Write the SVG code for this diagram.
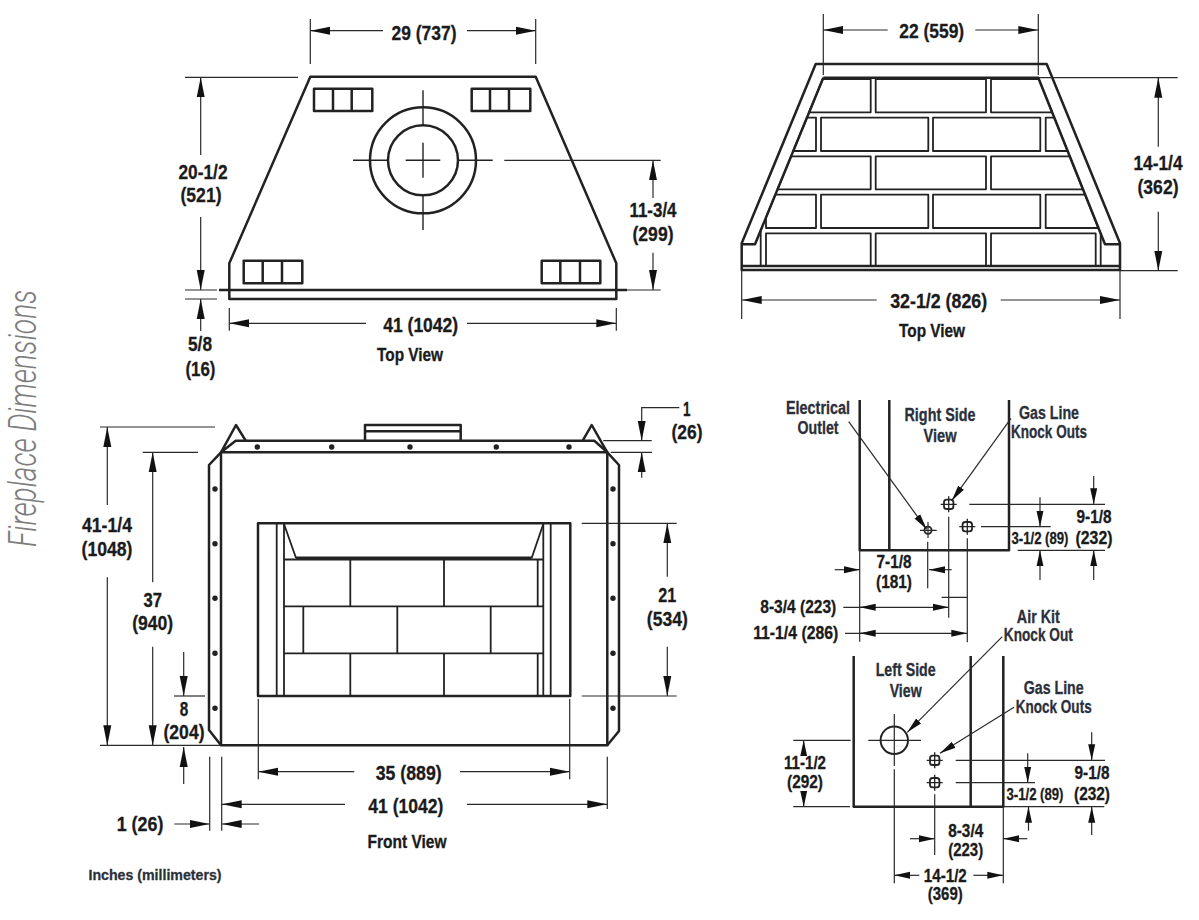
<svg xmlns="http://www.w3.org/2000/svg" width="1199" height="920" viewBox="0 0 1199 920">
<style>
text{font-family:"Liberation Sans",Arial,sans-serif;font-weight:700;fill:#1b1b1b;stroke:#1b1b1b;stroke-width:.3;text-anchor:middle}
.d{font-size:20px}
.m{font-size:18px}
.v{font-size:18px;fill:#2b2f3a;stroke:#2b2f3a}
.s{font-size:16px}
.n{fill:none;stroke:#222;stroke-width:2.5;stroke-linejoin:round}
.b{fill:none;stroke:#222;stroke-width:1.8;stroke-linejoin:round}
.t{fill:none;stroke:#2a2a2a;stroke-width:1.2}
.a{marker-start:url(#ah);}
.z{marker-end:url(#ah)}
.a2{marker-start:url(#sh)}
.z2{marker-end:url(#sh)}
.dot{fill:#222}
</style>
<defs>
<marker id="ah" markerUnits="userSpaceOnUse" markerWidth="20" markerHeight="9" refX="20" refY="4.5" orient="auto-start-reverse"><path d="M0,.5 L20,4.5 L0,8.5 Z" fill="#111"/></marker>
<marker id="sh" markerUnits="userSpaceOnUse" markerWidth="16" markerHeight="8" refX="16" refY="4" orient="auto-start-reverse"><path d="M0,.5 L16,4 L0,7.5 Z" fill="#111"/></marker>
<g id="ko"><rect x="-4.7" y="-4.7" width="9.4" height="9.4" rx="2.6" fill="none" stroke="#222" stroke-width="1.8"/><path d="M-8,0H8M0,-8V8" fill="none" stroke="#222" stroke-width="1.3"/></g>
</defs>

<text transform="translate(35.5 418.5) rotate(-90)" style="font-family:Roboto,'Liberation Sans',sans-serif;font-weight:300;font-style:italic;font-size:38px;fill:#7d7d7d;stroke:none" textLength="257" lengthAdjust="spacingAndGlyphs">Fireplace Dimensions</text>

<g id="top-view-left">
<path class="n" d="M310.3 76.7H535.7L616.3 263.3V299H229.3V263.3Z"/>
<path class="n" d="M219 290H627"/>
<path class="n" d="M314 88.7H372.3V111H314ZM333 88.7V111M351.7 88.7V111"/>
<path class="n" d="M471.7 88.7H530.3V111H471.7ZM490 88.7V111M509 88.7V111"/>
<path class="n" d="M243.7 260.7H302.3V283.3H243.7ZM262.7 260.7V283.3M282 260.7V283.3"/>
<path class="n" d="M541.7 260.7H600.3V283.3H541.7ZM560.3 260.7V283.3M580 260.7V283.3"/>
<circle class="n" cx="423" cy="160.3" r="53"/>
<circle class="n" cx="423" cy="160.3" r="35"/>
<path class="b" style="stroke-width:1.4" d="M423 90.3V125.3M423 195.3V230M353 160.3H388M458 160.3H492.7M405.7 160.3H440.3M423 142.7V177.7"/>
<text class="m" x="410" y="360.7" textLength="66" lengthAdjust="spacingAndGlyphs">Top View</text>
</g>

<g id="top-view-right">
<path class="n" d="M815.7 64H1046.7L1120 243.3V270H741.7V243.3Z"/>
<path class="n" d="M823.3 77.7H1038.3L1105 244.3H1120M823.3 77.7L755 244.3H741.7"/>
<path class="n" d="M741.7 266H1120"/>
<g class="bricks">
<path class="b" d="M822.8 79H870.7V112.3H809.1Z"/>
<path class="b" d="M875.7 79H986V112.3H875.7Z"/>
<path class="b" d="M991 79H1038.8L1052.1 112.3H991Z"/>
<path class="b" d="M806.9 117.7H816V151H793.2Z"/>
<path class="b" d="M821 117.7H928.3V151H821Z"/>
<path class="b" d="M933 117.7H1040.3V151H933Z"/>
<path class="b" d="M1045.7 117.7H1054.3L1067.6 151H1045.7Z"/>
<path class="b" d="M791.1 156.3H870.7V189.3H777.5Z"/>
<path class="b" d="M875.7 156.3H986V189.3H875.7Z"/>
<path class="b" d="M991 156.3H1069.7L1082.9 189.3H991Z"/>
<path class="b" d="M775.3 194.7H816V228H766V217.5Z"/>
<path class="b" d="M821 194.7H928.3V228H821Z"/>
<path class="b" d="M933 194.7H1040.3V228H933Z"/>
<path class="b" d="M1045.7 194.7H1085.1L1098.4 228H1045.7Z"/>
<path class="b" d="M766 233.3H870.7V266H766Z"/>
<path class="b" d="M875.7 233.3H986V266H875.7Z"/>
<path class="b" d="M991 233.3H1095.7V266H991Z"/>
<path class="b" d="M760.7 230V266M1100.7 233V266"/>
</g>
<text class="m" x="932" y="337" textLength="66" lengthAdjust="spacingAndGlyphs">Top View</text>
</g>

<g id="front-view">
<path class="n" d="M221 452.3L236 425L245.7 440.7M582.7 440.7L591.7 425L607.3 452.3"/>
<path class="n" d="M365 440.7V425H460.7V440.7M365 431.3H460.7"/>
<path class="n" d="M221 452.3L235.7 440.7H594.3L607.3 452.3"/>
<path class="n" d="M221 452.3H607.3V745.3H221Z"/>
<path class="n" d="M221 452.3L209 465V730L221 745.3M607.3 452.3L619 465V731L607.3 745.3"/>
<g class="dot">
<circle cx="257.3" cy="447" r="2.7"/><circle cx="331.7" cy="447" r="2.7"/><circle cx="410" cy="447" r="2.7"/><circle cx="496.3" cy="447" r="2.7"/><circle cx="569" cy="447" r="2.7"/>
<circle cx="215" cy="489" r="2.7"/><circle cx="215" cy="543.7" r="2.7"/><circle cx="215" cy="598.3" r="2.7"/><circle cx="215" cy="653.3" r="2.7"/><circle cx="215" cy="708.3" r="2.7"/>
<circle cx="613" cy="489" r="2.7"/><circle cx="613" cy="543.7" r="2.7"/><circle cx="613" cy="598.3" r="2.7"/><circle cx="613" cy="653.3" r="2.7"/><circle cx="613" cy="708.3" r="2.7"/>
</g>
<path class="n" d="M258 523.3H570.3V696H258Z"/>
<path class="b" d="M276.7 523.3V696M284 523.3V696M550.7 523.3V696M543.3 523.3V696"/>
<path class="b" d="M284 524L296 558M543.3 524L531.7 558M284 559.5H543.3"/>
<path class="n" style="stroke-width:3" d="M296 558H531.7"/>
<path class="b" d="M284 606.3H543.3M284 653.3H543.3"/>
<path class="b" d="M350.3 559V606.3M444 559V606.3M537.7 559V606.3M303.3 606.3V653.3M397.3 606.3V653.3M490.7 606.3V653.3M350.3 653.3V696M444 653.3V696M537.7 653.3V696"/>
<text class="m" x="407" y="847.7" textLength="79" lengthAdjust="spacingAndGlyphs">Front View</text>
</g>

<g id="right-side-view">
<path class="n" d="M859.7 400V550.3H1009V400M889.3 400V550.3"/>
<circle cx="928" cy="530.3" r="3.6" fill="none" stroke="#222" stroke-width="1.8"/>
<path class="t" d="M920 530.3H936.7M928 522V538"/>
<use href="#ko" x="948.7" y="504.3"/>
<use href="#ko" x="967.3" y="526.7"/>
<text class="v" x="940" y="420.7" textLength="71" lengthAdjust="spacingAndGlyphs">Right Side</text>
<text class="v" x="940" y="441.7" textLength="33" lengthAdjust="spacingAndGlyphs">View</text>
</g>

<g id="left-side-view">
<path class="n" d="M853.7 656V806.7H1003.3V656M970.7 656V806.7"/>
<circle cx="894.3" cy="740.3" r="13.7" fill="none" stroke="#222" stroke-width="2"/>
<path class="t" d="M868.3 740.3H921M894.3 714V766"/>
<use href="#ko" x="934.7" y="760.3"/>
<use href="#ko" x="934.7" y="782.7"/>
<text class="v" x="905.7" y="676" textLength="60" lengthAdjust="spacingAndGlyphs">Left Side</text>
<text class="v" x="905.7" y="697" textLength="32" lengthAdjust="spacingAndGlyphs">View</text>
</g>

<g id="connectors">
<path class="t" d="M310.3 19V64M535.7 19V64"/>
<path class="t a" d="M310.3 30.7H383"/><path class="t z" d="M467 30.7H535.7"/>
<path class="t" d="M185 77.3H298M185 290H217M185 299H217"/>
<path class="t a" d="M200.7 77.3V155"/><path class="t z" d="M200.7 217V290"/><path class="t a" d="M200.7 299V331"/>
<path class="t" d="M504.3 160.3H660.7M627 290H660.7"/>
<path class="t a" d="M653 160.3V198"/><path class="t z" d="M653 252.7V290"/>
<path class="t" d="M229.3 308V330.7M616.3 308V330.7"/>
<path class="t a" d="M229.3 323.3H366"/><path class="t z" d="M467 323.3H616.3"/>
<path class="t" d="M823.3 14V75M1038.3 14V75"/>
<path class="t a" d="M823.3 30H887.7"/><path class="t z" d="M975.3 30H1038.3"/>
<path class="t" d="M1038.3 77.7H1177.7M1120 270.7H1177.7"/>
<path class="t a" d="M1158.3 77.7V146.7"/><path class="t z" d="M1158.3 211.7V270.7"/>
<path class="t" d="M741.7 270V319M1120 270V319"/>
<path class="t a" d="M741.7 300H876.7"/><path class="t z" d="M1000.7 300H1120"/>
<path class="t" d="M100 427H215M100 745.3H221"/>
<path class="t a" d="M107.3 427V505"/><path class="t z" d="M107.3 577.3V745.3"/>
<path class="t" d="M142.7 452.3H198"/>
<path class="t a" d="M152.7 452.3V582.3"/><path class="t z" d="M152.7 646.7V745.3"/>
<path class="t" d="M174 696H205"/>
<path class="t z" d="M183.7 652V696"/><path class="t z" d="M183.7 784V747"/>
<path class="t" d="M258.3 699V779.3M569.7 699V779.3"/>
<path class="t a" d="M258.3 771.7H354.3"/><path class="t z" d="M460 771.7H569.7"/>
<path class="t" d="M221.7 756.7V830.7M209.7 756.7V830.7M607.3 756.7V809"/>
<path class="t a" d="M221.7 804.3H345"/><path class="t z" d="M467 804.3H607.3"/>
<path class="t z" d="M174.3 824H209.7"/><path class="t z" d="M259 824H221.7"/>
<path class="t" d="M603.3 440.7H651.7M610.7 452.3H652"/>
<path class="t z" d="M679.3 407.7H641.7V440.7"/>
<path class="t z" d="M641.7 477.7V452.3"/>
<path class="t" d="M581.7 523.3H676.7M581.7 696H676.7"/>
<path class="t a" d="M667.3 523.3V576.7"/><path class="t z" d="M667.3 646.7V696"/>
<path class="t z2" d="M848.7 421.7L926.7 529.3"/>
<path class="t z2" d="M1011 418.3L951.7 500.7"/>
<path class="t" d="M927.7 541.7V588.3M948.7 516.7V617.7M967.3 538.3V642.3M859.7 550V641.7M941.7 597.3H967.3"/>
<path class="t" d="M969.3 504.3H1105M981 526.7H1050.7M1017.7 550.3H1105"/>
<path class="t z2" d="M1093.7 476V504.3"/><path class="t z2" d="M1093.7 580V550.3"/>
<path class="t z2" d="M1040 497.3V526.7"/><path class="t z2" d="M1040 580V550.3"/>
<path class="t z2" d="M834.7 569.7H859.7"/><path class="t z2" d="M951.7 569.7H929"/>
<path class="t z2" d="M843.3 607.3H948.7"/><path class="t a2" d="M859.7 607.3H875"/>
<path class="t z2" d="M845 633.3H967.3"/><path class="t a2" d="M859.7 633.3H875"/>
<path class="t z2" d="M1002.3 636.7L907.3 732.3"/>
<path class="t z2" d="M1014 707.3L940 753.3"/>
<path class="t" d="M894.3 769.3V883.3M934.7 794.3V855M1003.3 806V883.3"/>
<path class="t" d="M955.7 760.3H1105M955.7 782.7H1035M1003 806.7H1104.3M793.3 740.3H850.7M793.3 806.7H850"/>
<path class="t z2" d="M1091.7 732.3V760.3"/><path class="t z2" d="M1091.7 835V806.7"/>
<path class="t z2" d="M1027.7 753.3V782.7"/><path class="t z2" d="M1028.5 830.7V806.7"/>
<path class="t a2" d="M803.7 740.3V755"/><path class="t z2" d="M803.7 791.7V806.7"/>
<path class="t z2" d="M910 838.7H934.7"/><path class="t z2" d="M1027.3 838.7H1003.3"/>
<path class="t a2" d="M894.3 875.3H919.3"/><path class="t z2" d="M973.3 875.3H1003.3"/>
</g>

<g id="labels">
<text class="d" x="424" y="40" textLength="65" lengthAdjust="spacingAndGlyphs">29 (737)</text>
<text class="d" x="203" y="179" textLength="49" lengthAdjust="spacingAndGlyphs">20-1/2</text><text class="d" x="201" y="202" textLength="41" lengthAdjust="spacingAndGlyphs">(521)</text>
<text class="d" x="653" y="217" textLength="47" lengthAdjust="spacingAndGlyphs">11-3/4</text><text class="d" x="653" y="241" textLength="41" lengthAdjust="spacingAndGlyphs">(299)</text>
<text class="d" x="420.7" y="331.7" textLength="75" lengthAdjust="spacingAndGlyphs">41 (1042)</text>
<text class="d" x="200" y="350.7" textLength="24" lengthAdjust="spacingAndGlyphs">5/8</text><text class="d" x="200.5" y="376" textLength="30" lengthAdjust="spacingAndGlyphs">(16)</text>
<text class="d" x="931.7" y="37.7" textLength="65" lengthAdjust="spacingAndGlyphs">22 (559)</text>
<text class="d" x="1158" y="170" textLength="49" lengthAdjust="spacingAndGlyphs">14-1/4</text><text class="d" x="1158" y="194" textLength="41" lengthAdjust="spacingAndGlyphs">(362)</text>
<text class="d" x="938.7" y="308" textLength="97" lengthAdjust="spacingAndGlyphs">32-1/2 (826)</text>
<text class="d" x="107" y="532.3" textLength="50" lengthAdjust="spacingAndGlyphs">41-1/4</text><text class="d" x="107" y="556.3" textLength="51" lengthAdjust="spacingAndGlyphs">(1048)</text>
<text class="d" x="152.7" y="606.7" textLength="18.5" lengthAdjust="spacingAndGlyphs">37</text><text class="d" x="152.7" y="630.3" textLength="41" lengthAdjust="spacingAndGlyphs">(940)</text>
<text class="d" x="184" y="715.7" textLength="8.5" lengthAdjust="spacingAndGlyphs">8</text><text class="d" x="184" y="739.3" textLength="41" lengthAdjust="spacingAndGlyphs">(204)</text>
<text class="d" x="408.7" y="780" textLength="66" lengthAdjust="spacingAndGlyphs">35 (889)</text>
<text class="d" x="405.8" y="812.7" textLength="75" lengthAdjust="spacingAndGlyphs">41 (1042)</text>
<text class="d" x="140" y="831" textLength="46.7" lengthAdjust="spacingAndGlyphs">1 (26)</text>
<text class="d" x="686.7" y="415.7" textLength="7.5" lengthAdjust="spacingAndGlyphs">1</text><text class="d" x="687" y="439.3" textLength="31" lengthAdjust="spacingAndGlyphs">(26)</text>
<text class="d" x="667.3" y="602.3" textLength="18" lengthAdjust="spacingAndGlyphs">21</text><text class="d" x="667.3" y="626.3" textLength="41" lengthAdjust="spacingAndGlyphs">(534)</text>
<text class="v" style="font-size:15.5px" x="155" y="880" textLength="133" lengthAdjust="spacingAndGlyphs">Inches (millimeters)</text>
<text class="v" x="818" y="414.3" textLength="64" lengthAdjust="spacingAndGlyphs">Electrical</text><text class="v" x="818" y="433.7" textLength="41" lengthAdjust="spacingAndGlyphs">Outlet</text>
<text class="v" x="1049" y="418.7" textLength="60" lengthAdjust="spacingAndGlyphs">Gas Line</text><text class="v" x="1049" y="438" textLength="76" lengthAdjust="spacingAndGlyphs">Knock Outs</text>
<text class="m" x="1094" y="523.3" textLength="35" lengthAdjust="spacingAndGlyphs">9-1/8</text><text class="m" x="1094" y="544" textLength="37" lengthAdjust="spacingAndGlyphs">(232)</text>
<text class="s" x="1040" y="544" textLength="57" lengthAdjust="spacingAndGlyphs">3-1/2 (89)</text>
<text class="m" x="894" y="568.3" textLength="35" lengthAdjust="spacingAndGlyphs">7-1/8</text><text class="m" x="894" y="588.3" textLength="36" lengthAdjust="spacingAndGlyphs">(181)</text>
<text class="m" x="798.3" y="612.7" textLength="76" lengthAdjust="spacingAndGlyphs">8-3/4 (223)</text>
<text class="m" x="795.7" y="639.3" textLength="85" lengthAdjust="spacingAndGlyphs">11-1/4 (286)</text>
<text class="v" x="1038.3" y="622.7" textLength="43" lengthAdjust="spacingAndGlyphs">Air Kit</text><text class="v" x="1038.3" y="640.7" textLength="69" lengthAdjust="spacingAndGlyphs">Knock Out</text>
<text class="v" x="1053.7" y="693.7" textLength="60" lengthAdjust="spacingAndGlyphs">Gas Line</text><text class="v" x="1053.7" y="712.7" textLength="76" lengthAdjust="spacingAndGlyphs">Knock Outs</text>
<text class="m" x="1092" y="779" textLength="35" lengthAdjust="spacingAndGlyphs">9-1/8</text><text class="m" x="1092" y="800" textLength="36" lengthAdjust="spacingAndGlyphs">(232)</text>
<text class="s" x="1035" y="800" textLength="57" lengthAdjust="spacingAndGlyphs">3-1/2 (89)</text>
<text class="m" x="805" y="769" textLength="42" lengthAdjust="spacingAndGlyphs">11-1/2</text><text class="m" x="805" y="787.7" textLength="36" lengthAdjust="spacingAndGlyphs">(292)</text>
<text class="m" x="965.7" y="836.7" textLength="35" lengthAdjust="spacingAndGlyphs">8-3/4</text><text class="m" x="965.7" y="856" textLength="35" lengthAdjust="spacingAndGlyphs">(223)</text>
<text class="m" x="945.3" y="881.7" textLength="43" lengthAdjust="spacingAndGlyphs">14-1/2</text><text class="m" x="945.3" y="900" textLength="35" lengthAdjust="spacingAndGlyphs">(369)</text>
</g>
</svg>
